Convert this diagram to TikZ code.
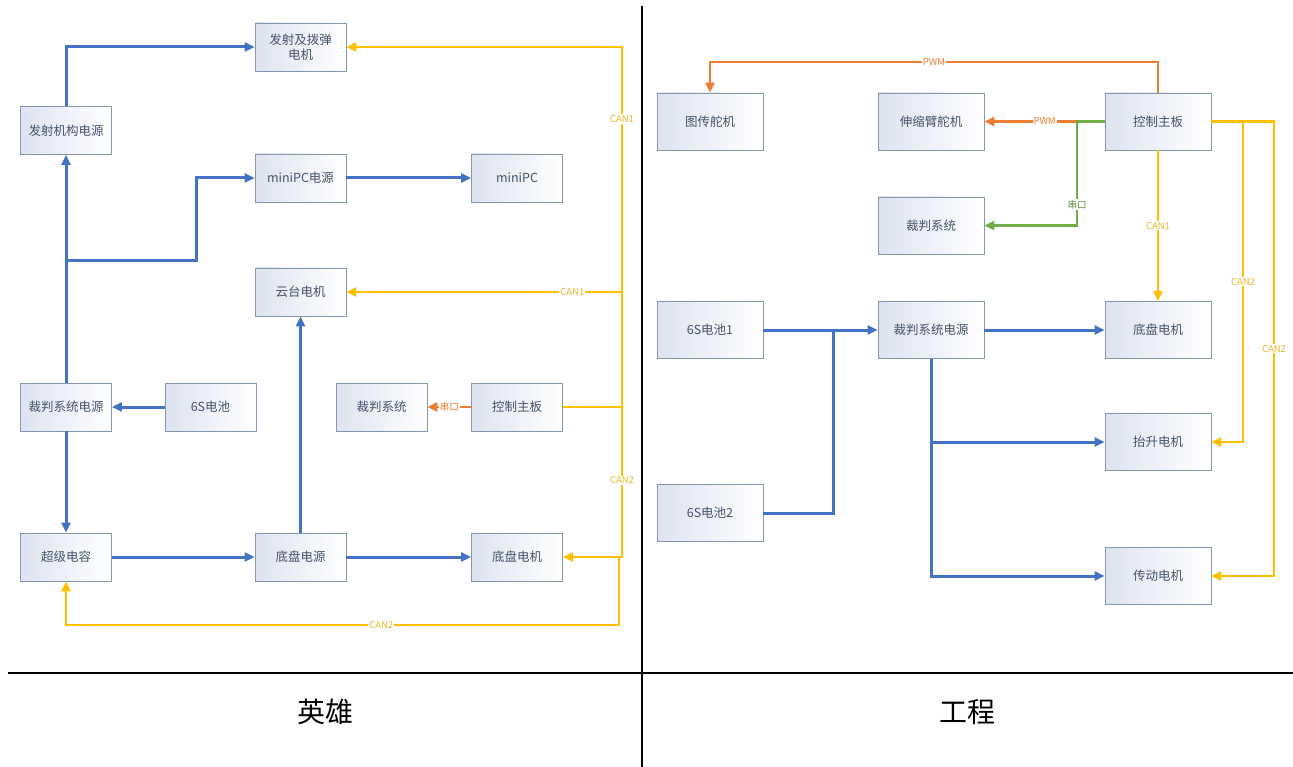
\documentclass[tikz,border=0pt]{standalone}
\usepackage{fontspec}
\setmainfont{Noto Sans CJK SC}
\usetikzlibrary{arrows.meta}
\definecolor{cblue}{HTML}{4472C4}
\definecolor{cyel}{HTML}{FFC000}
\definecolor{corg}{HTML}{ED7D31}
\definecolor{cgrn}{HTML}{70AD47}
\definecolor{cbord}{HTML}{8497B0}
\definecolor{ctext}{HTML}{44546A}
\definecolor{cfill}{HTML}{DDE3EF}
\definecolor{clab}{HTML}{E8B82A}
\begin{document}
\begin{tikzpicture}[x=1pt,y=-1pt,
  box/.style={draw=cbord, line width=0.9pt, left color=cfill, right color=white,
    text=ctext, align=center, inner sep=0pt, font=\fontsize{12.5}{15}\selectfont},
  sbox/.style={box, minimum width=91pt, minimum height=48pt},
  lbox/.style={box, minimum width=106pt, minimum height=57pt},
  tip/.style={-{Triangle[length=10pt,width=9pt]}},
  pwline/.style={draw=cblue, line width=3pt},
  pw/.style={pwline, tip},
  canline/.style={draw=cyel, line width=2.6pt},
  can/.style={canline, tip},
  serline/.style={draw=corg, line width=2.6pt},
  ser/.style={serline, tip},
  grnline/.style={draw=cgrn, line width=2.6pt},
  grn/.style={grnline, tip},
  lab/.style={fill=white, inner sep=1pt, font=\fontsize{9.5}{11}\selectfont},
  ylab/.style={lab, text=clab},
  olab/.style={lab, text=corg},
  glab/.style={lab, text=cgrn!85!black},
  title/.style={font=\fontsize{28}{32}\selectfont, text=black}
]
\useasboundingbox (0,0) rectangle (1293,767);

% ---------- left panel ----------
\node[sbox] (fire)   at (300.5,47)  {发射及拨弹\\电机};
\node[sbox] (firepw) at (66,130.5)  {发射机构电源};
\node[sbox] (ipcpw)  at (300.5,178) {miniPC电源};
\node[sbox] (ipc)    at (517,178)   {miniPC};
\node[sbox] (gimbal) at (300.5,292) {云台电机};
\node[sbox] (refpw)  at (66,407)    {裁判系统电源};
\node[sbox] (bat)    at (210.5,407) {6S电池};
\node[sbox] (ref)    at (381.5,407) {裁判系统};
\node[sbox] (ctrl)   at (517,407)   {控制主板};
\node[sbox] (cap)    at (66,557)    {超级电容};
\node[sbox] (chpw)   at (300.5,557) {底盘电源};
\node[sbox] (chm)    at (517,557)   {底盘电机};

\coordinate (j1) at (66,261);
\coordinate (bus) at (622,407);
\coordinate (busb) at (619,557);

\draw[pw] (firepw.north) |- (fire.west);
\draw[pw] (refpw.north) -- (firepw.south);
\draw[pw] (j1) -| (196,178) -- (ipcpw.west);
\draw[pw] (ipcpw) -- (ipc);
\draw[pw] (bat) -- (refpw);
\draw[pw] (refpw) -- (cap);
\draw[pw] (cap) -- (chpw);
\draw[pw] (chpw) -- (gimbal);
\draw[pw] (chpw) -- (chm);
\draw[ser] (ctrl) -- node[olab]{串口} (ref);

\draw[canline] (ctrl.east) -- (bus);
\draw[can] (bus) -- node[ylab,pos=0.80]{CAN1} (622,47) -- (fire.east);
\draw[can] (bus) -- (622,292) -- node[ylab,pos=0.18]{CAN1} (gimbal.east);
\draw[can] (bus) -- node[ylab,pos=0.49]{CAN2} (622,557) -- (chm.east);
\draw[can] (busb) -- (619,625) -- node[ylab,pos=0.43]{CAN2} (66,625) -- (cap.south);

% ---------- right panel ----------
\node[lbox] (vtx)    at (710,121.5)  {图传舵机};
\node[lbox] (arm)    at (931,121.5)  {伸缩臂舵机};
\node[lbox] (ref2)   at (931,225.5)  {裁判系统};
\node[lbox] (ctrl2)  at (1158,121.5) {控制主板};
\node[lbox] (bat1)   at (710,330)    {6S电池1};
\node[lbox] (refpw2) at (931,330)    {裁判系统电源};
\node[lbox] (chm2)   at (1158,330)   {底盘电机};
\node[lbox] (bat2)   at (710,513)    {6S电池2};
\node[lbox] (lift)   at (1158,442)   {抬升电机};
\node[lbox] (drv)    at (1158,576)   {传动电机};

\coordinate (sp) at (1077,121.5);
\coordinate (cb) at (1243,121.5);
\coordinate (jb) at (833,330);
\coordinate (jl) at (931,442);

\draw[ser] (ctrl2.north) -- (1158,62) -- node[olab,pos=0.50]{PWM} (710,62) -- (vtx.north);
\draw[grnline] (ctrl2.west) -- (sp);
\draw[ser] (sp) -- node[olab,pos=0.35]{PWM} (arm.east);
\draw[grn] (sp) -- node[glab,pos=0.8]{串口} (1077,225.5) -- (ref2.east);

\draw[can] (ctrl2.south) -- node[ylab,pos=0.5]{CAN1} (chm2.north);
\draw[can] (ctrl2.east) -- (1274,121.5) -- node[ylab,pos=0.5]{CAN2} (1274,576) -- (drv.east);
\draw[can] (cb) -- node[ylab,pos=0.5]{CAN2} (1243,442) -- (lift.east);

\draw[pw] (bat1) -- (refpw2);
\draw[pwline] (bat2.east) -| (jb);
\draw[pw] (refpw2) -- (chm2);
\draw[pw] (refpw2.south) |- (drv.west);
\draw[pw] (jl) -- (lift.west);

% ---------- frame and titles ----------
\draw[line width=2pt] (642,6) -- (642,767);
\draw[line width=2.5pt] (8,673) -- (1293,673);
\node[title] (t1) at (325,712) {英雄};
\node[title] (t2) at (967,712) {工程};
\end{tikzpicture}
\end{document}
